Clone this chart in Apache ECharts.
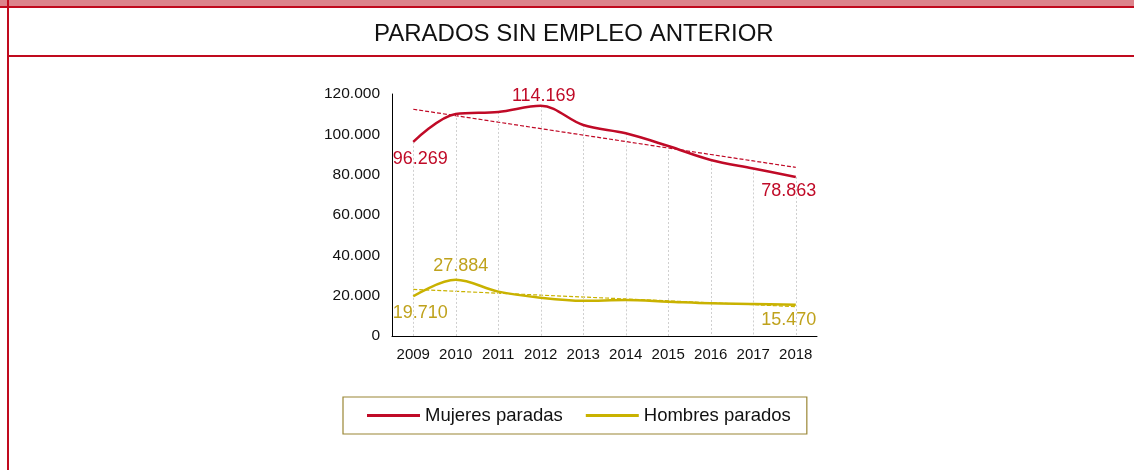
<!DOCTYPE html>
<html><head><meta charset="utf-8">
<script src="https://cdn.jsdelivr.net/npm/echarts@6/dist/echarts.min.js"></script>
<style>html,body{margin:0;padding:0;background:#fff}#c{width:1134px;height:470px}</style>
</head><body><div id="c"></div>
<script>
const years = ['2009','2010','2011','2012','2013','2014','2015','2016','2017','2018'];
const mujeres = [96269, 110100, 111100, 114169, 104600, 100500, 94200, 87300, 83100, 78863];
const hombres = [19710, 27884, 22000, 19000, 17500, 17800, 17000, 16200, 15900, 15470];
const yTicks = [0, 20000, 40000, 60000, 80000, 100000, 120000];
const titleText = 'PARADOS SIN EMPLEO ANTERIOR';
const names = ['Mujeres paradas', 'Hombres parados'];

const RED = '#c00a27', YEL = '#c9b200', YEL_TXT = '#bfa21c';
const fmt = v => String(v).replace(/\B(?=(\d{3})+(?!\d))/g, '.');

function trend(arr){
  const n = arr.length, mx = (n-1)/2;
  const my = arr.reduce((a,b)=>a+b,0)/n;
  let sxy=0, sxx=0;
  arr.forEach((y,i)=>{sxy+=(i-mx)*(y-my); sxx+=(i-mx)*(i-mx);});
  const b = sxy/sxx, a = my - b*mx;
  return arr.map((_,i)=>a+b*i);
}
function labeled(arr, spec){
  return arr.map((v,i)=>{
    const s = spec[i];
    if(!s) return v;
    return {value:v, label:{show:true, position:s.pos, offset:s.off||[0,0], distance:s.d}};
  });
}
const FONT = 'Liberation Sans, Arial, sans-serif';
const chart = echarts.init(document.getElementById('c'), null, {renderer:'canvas'});
chart.setOption({
  animation:false,
  backgroundColor:'#fff',
  textStyle:{fontFamily:FONT},
  title:{text:titleText, left:369, top:17,
    textStyle:{fontFamily:FONT, fontSize:24, fontWeight:'normal', color:'#111'}},
  graphic:[
    {type:'rect', shape:{x:0,y:0,width:1134,height:6}, style:{fill:'#dc848c'}, silent:true},
    {type:'rect', shape:{x:0,y:6,width:1134,height:2}, style:{fill:'#c00a1e'}, silent:true},
    {type:'rect', shape:{x:7,y:0,width:2,height:470}, style:{fill:'#c00a1e'}, silent:true},
    {type:'rect', shape:{x:7,y:55,width:1127,height:2}, style:{fill:'#c00a1e'}, silent:true}
  ],
  legend:{
    data:names, left:343, top:397, orient:'horizontal',
    padding:[9,16,9,24], itemGap:23, itemWidth:53, itemHeight:3, icon:'rect',
    borderColor:'#9a8634', borderWidth:1.2,
    textStyle:{fontFamily:FONT, fontSize:18.5, color:'#111'}
  },
  grid:{left:392, right:317, top:94, bottom:134},
  xAxis:{type:'category', data:years, boundaryGap:true,
    axisLine:{lineStyle:{color:'#000', width:1}},
    axisTick:{show:false},
    axisLabel:{color:'#111', fontSize:15, margin:11, fontFamily:FONT, interval:0},
    splitLine:{show:false}},
  yAxis:{type:'value', min:0, max:120000, interval:20000,
    axisLine:{show:true, lineStyle:{color:'#000', width:1}},
    axisTick:{show:false},
    axisLabel:{color:'#111', fontSize:15.5, margin:12, fontFamily:FONT, formatter:fmt},
    splitLine:{show:false}},
  series:[
    {name:names[0], type:'line', smooth:0.35, symbol:'circle', symbolSize:0.5, showAllSymbol:true, z:5,
      lineStyle:{color:RED, width:2.5}, itemStyle:{color:RED},
      label:{color:RED, fontSize:18, fontFamily:FONT, formatter:p=>fmt(p.value)},
      data:labeled(mujeres, {0:{pos:'bottom', off:[7,0], d:8}, 3:{pos:'top', off:[3,0], d:0}, 9:{pos:'bottom', off:[-7,0], d:5}}),
      markLine:{silent:true, symbol:'none', label:{show:false},
        lineStyle:{color:'#cfcfcf', type:[2,2], width:1},
        data:years.map((y,i)=>[{coord:[y, mujeres[i]]},{coord:[y, 0]}])}
    },
    {name:names[1], type:'line', smooth:0.35, symbol:'circle', symbolSize:0.5, showAllSymbol:true, z:5,
      lineStyle:{color:YEL, width:2.5}, itemStyle:{color:YEL},
      label:{color:YEL_TXT, fontSize:18, fontFamily:FONT, formatter:p=>fmt(p.value)},
      data:labeled(hombres, {0:{pos:'bottom', off:[7,0], d:8}, 1:{pos:'top', off:[5,0], d:4}, 9:{pos:'bottom', off:[-7,0], d:6}})
    },
    {name:'trendM', type:'line', symbol:'none', z:4, silent:true,
      lineStyle:{color:RED, width:1.2, type:[4,2]}, data:trend(mujeres)},
    {name:'trendH', type:'line', symbol:'none', z:4, silent:true,
      lineStyle:{color:YEL, width:1.2, type:[4,2]}, data:trend(hombres)}
  ]
});
</script></body></html>
